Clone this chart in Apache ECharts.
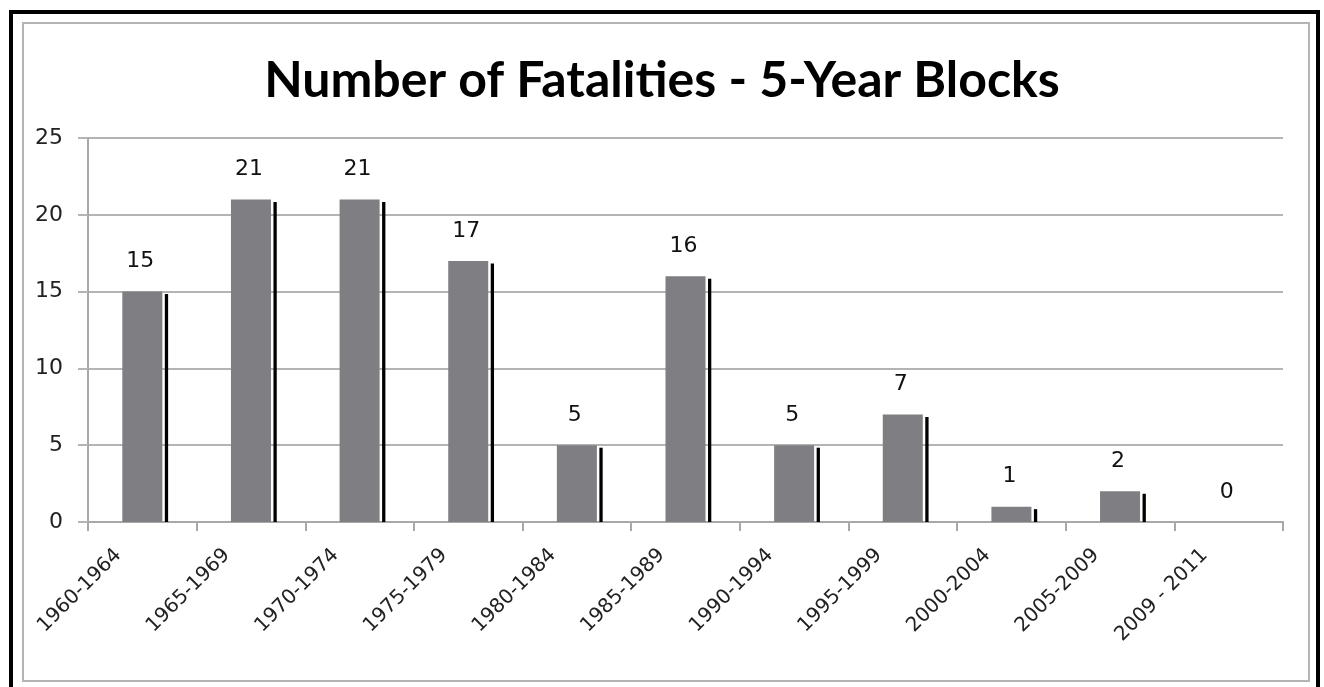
<!DOCTYPE html>
<html>
<head>
<meta charset="utf-8">
<title>Number of Fatalities - 5-Year Blocks</title>
<script src="https://cdn.jsdelivr.net/npm/echarts@6/dist/echarts.min.js"></script>
<style>
    html, body { margin: 0; padding: 0; background: #fff; }
    #chart { width: 1324px; height: 687px; }
</style>
</head>
<body>
<div id="chart"></div>
<script>
// 数据
var periods = ['1960-1964', '1965-1969', '1970-1974', '1975-1979', '1980-1984', '1985-1989',
    '1990-1994', '1995-1999', '2000-2004', '2005-2009', '2009 - 2011'];
var fatalities = [15, 21, 21, 17, 5, 16, 5, 7, 1, 2, 0];
var yTicks = [0, 5, 10, 15, 20, 25];

var chart = echarts.init(document.getElementById('chart'));

// 灰色柱 + 右侧黑色细条 + 数值
function renderBar(params, api) {
    var idx = api.value(0);
    var val = api.value(1);
    var top = api.coord([idx, val]);
    var base = api.coord([idx, 0]);
    var w = 40;
    var x0 = top[0] - w / 2;
    var children = [];
    if (val > 0) {
        children.push({
            type: 'rect',
            shape: { x: x0, y: top[1], width: w, height: base[1] - top[1] },
            style: { fill: '#7f7f83' }
        });
        children.push({
            type: 'rect',
            shape: { x: x0 + w + 2.5, y: top[1] + 2.5, width: 3.3, height: base[1] - top[1] - 2.5 },
            style: { fill: '#000' }
        });
    }
    children.push({
        type: 'text',
        style: {
            text: String(val),
            x: top[0] - 2,
            y: top[1] - 19,
            align: 'center',
            verticalAlign: 'bottom',
            fill: '#111',
            font: '22px "DejaVu Sans"'
        }
    });
    return { type: 'group', children: children };
}

var option = {
    animation: false,
    title: {
        text: 'Number of Fatalities - 5-Year Blocks',
        left: 'center',
        top: 51,
        textStyle: {
            fontFamily: 'Lato',
            fontWeight: 'bold',
            fontSize: 50,
            color: '#000'
        }
    },
    graphic: [
        {
            type: 'rect',
            shape: { x: 11, y: 12, width: 1307, height: 700 },
            style: { fill: 'none', stroke: '#000', lineWidth: 4 },
            silent: true
        },
        {
            type: 'rect',
            shape: { x: 23, y: 23, width: 1286, height: 658 },
            style: { fill: 'none', stroke: '#b4b4b4', lineWidth: 2 },
            silent: true
        }
    ],
    grid: {
        left: 88,
        right: 41,
        top: 138,
        bottom: 165
    },
    xAxis: {
        type: 'category',
        data: periods,
        boundaryGap: true,
        axisLine: { lineStyle: { color: '#a8a8a8', width: 2 } },
        axisTick: { show: true, length: 9, lineStyle: { color: '#a8a8a8', width: 2 } },
        axisLabel: {
            interval: 0,
            rotate: 45,
            margin: 6,
            padding: [0, 34, 0, 0],
            color: '#222',
            fontFamily: 'DejaVu Sans',
            fontSize: 20
        }
    },
    yAxis: {
        type: 'value',
        min: yTicks[0],
        max: yTicks[yTicks.length - 1],
        interval: 5,
        axisLine: { show: true, lineStyle: { color: '#a8a8a8', width: 2 } },
        axisTick: { show: true, length: 10, lineStyle: { color: '#b4b4b4', width: 2 } },
        splitLine: { lineStyle: { color: '#b4b4b4', width: 2 } },
        axisLabel: {
            margin: 25,
            color: '#222',
            fontFamily: 'DejaVu Sans',
            fontSize: 22
        }
    },
    series: [{
        type: 'custom',
        renderItem: renderBar,
        encode: { x: 0, y: 1 },
        data: fatalities.map(function(v, i) { return [i, v]; })
    }]
};

chart.setOption(option);
</script>
</body>
</html>
